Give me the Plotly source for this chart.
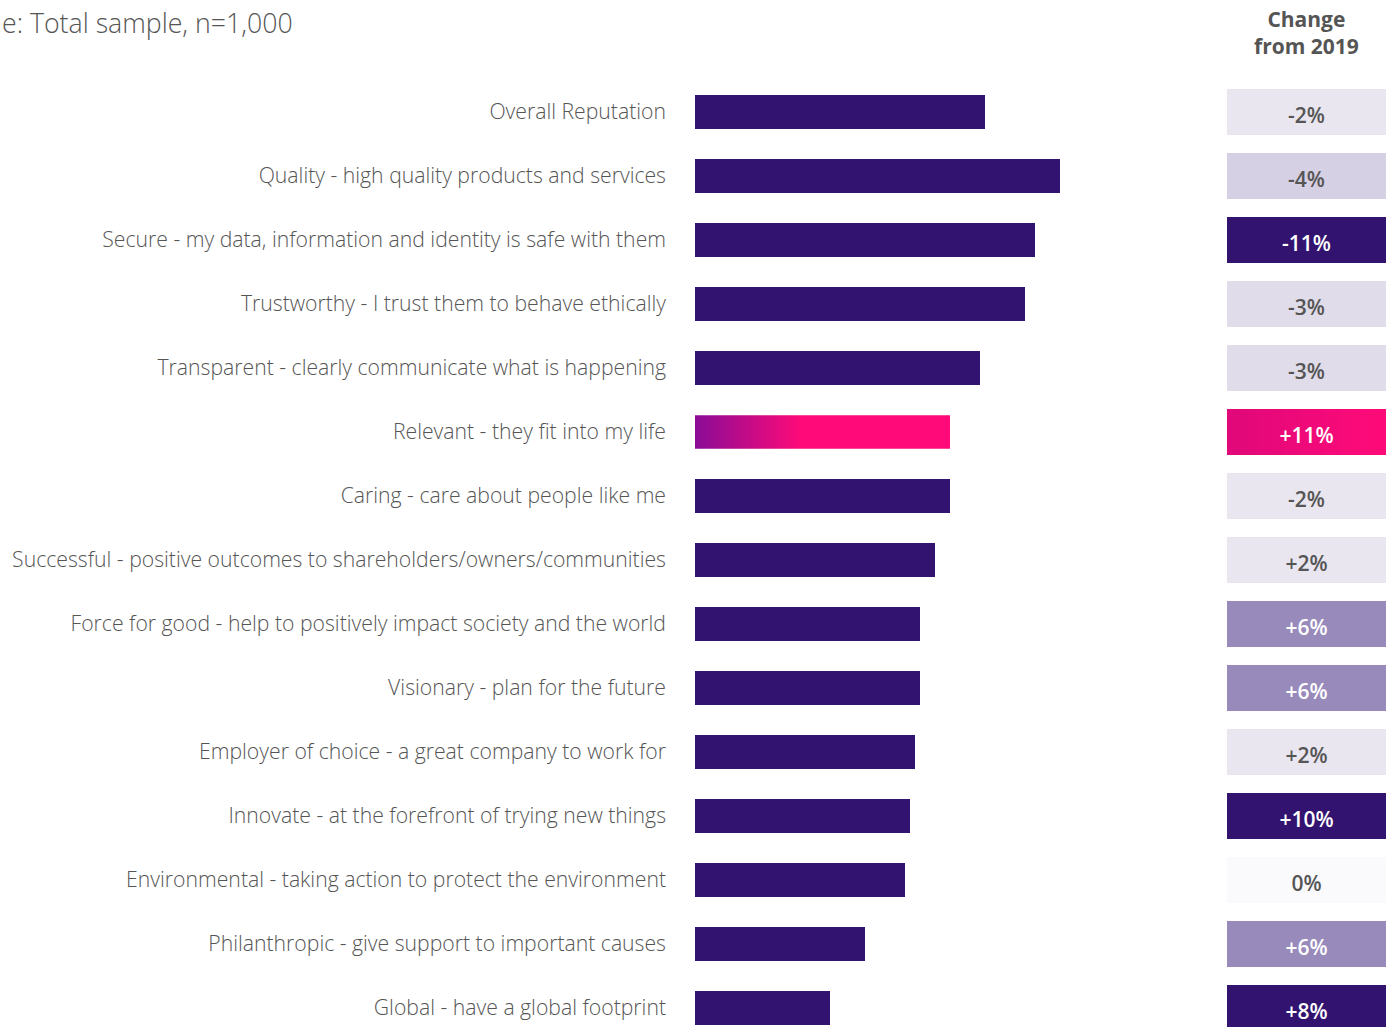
import plotly.graph_objects as go

categories = [
    "Overall Reputation",
    "Quality - high quality products and services",
    "Secure - my data, information and identity is safe with them",
    "Trustworthy - I trust them to behave ethically",
    "Transparent - clearly communicate what is happening",
    "Relevant - they fit into my life",
    "Caring - care about people like me",
    "Successful - positive outcomes to shareholders/owners/communities",
    "Force for good - help to positively impact society and the world",
    "Visionary - plan for the future",
    "Employer of choice - a great company to work for",
    "Innovate - at the forefront of trying new things",
    "Environmental - taking action to protect the environment",
    "Philanthropic - give support to important causes",
    "Global - have a global footprint",
]
scores = [58, 73, 68, 66, 57, 51, 51, 48, 45, 45, 44, 43, 42, 34, 27]
change_labels = ["-2%", "-4%", "-11%", "-3%", "-3%", "+11%", "-2%", "+2%",
                 "+6%", "+6%", "+2%", "+10%", "0%", "+6%", "+8%"]
box_colors = ["#e9e6f0", "#d6d0e4", "#321470", "#e0dcea", "#e0dcea", "#ff0a78",
              "#e9e6f0", "#e9e6f0", "#998abc", "#998abc", "#e9e6f0", "#321470",
              "#fafafc", "#998abc", "#321470"]
box_text_colors = ["#555555", "#555555", "#ffffff", "#555555", "#555555", "#ffffff",
                   "#555555", "#555555", "#ffffff", "#ffffff", "#555555", "#ffffff",
                   "#555555", "#ffffff", "#ffffff"]
highlight = "Relevant - they fit into my life"

BAR = "#321470"
FONT = "Open Sans"
W, H = 1389, 1027
TOP = 80
ypos = list(range(len(categories)))
hi = categories.index(highlight)

fig = go.Figure()

bar_colors = [BAR if c != highlight else "rgba(0,0,0,0)" for c in categories]
fig.add_trace(go.Bar(
    x=scores, y=ypos, orientation="h", width=0.52,
    marker=dict(color=bar_colors, line=dict(width=0)),
    xaxis="x", yaxis="y", showlegend=False, hoverinfo="skip",
))

# gradient bar for highlighted category
hw = 0.26
v = scores[hi]
fig.add_trace(go.Scatter(
    x=[0, v, v, 0, 0], y=[hi - hw, hi - hw, hi + hw, hi + hw, hi - hw],
    mode="lines", line=dict(width=0), fill="toself",
    fillgradient=dict(type="horizontal",
                      colorscale=[[0, "#8a0c96"], [0.42, "#ff0a78"], [1, "#ff0a78"]]),
    xaxis="x", yaxis="y", showlegend=False, hoverinfo="skip",
))

# change boxes
fig.add_trace(go.Bar(
    x=[1] * len(categories), y=ypos, orientation="h", width=0.72,
    marker=dict(color=box_colors, line=dict(width=0)),
    xaxis="x2", yaxis="y", showlegend=False, hoverinfo="skip",
))
# gradient for highlighted box
bw = 0.36
fig.add_trace(go.Scatter(
    x=[0, 1, 1, 0, 0], y=[hi - bw, hi - bw, hi + bw, hi + bw, hi - bw],
    mode="lines", line=dict(width=0), fill="toself",
    fillgradient=dict(type="horizontal",
                      colorscale=[[0, "#e0087a"], [1, "#ff0a78"]]),
    xaxis="x2", yaxis="y", showlegend=False, hoverinfo="skip",
))
fig.add_trace(go.Scatter(
    x=[0.5] * len(categories), y=[p + 0.09 for p in ypos], mode="text",
    text=change_labels,
    textfont=dict(family=FONT, size=21, color=box_text_colors, weight=600),
    xaxis="x2", yaxis="y", showlegend=False, hoverinfo="skip",
))

x0 = 695 / W
x1 = 1200 / W
fig.update_layout(
    width=W, height=H,
    margin=dict(l=0, r=0, t=TOP, b=0),
    paper_bgcolor="white", plot_bgcolor="white",
    bargap=0,
    font=dict(family=FONT, color="#555555"),
    xaxis=dict(domain=[x0, x1], range=[0, (1200 - 695) / 5], visible=False, fixedrange=True),
    xaxis2=dict(domain=[1227 / W, 1386 / W], range=[0, 1], visible=False, anchor="y"),
    yaxis=dict(range=[(H - TOP) / 64 - 0.5, -0.5], tickvals=ypos, ticktext=categories,
               showgrid=False, zeroline=False, showline=False, ticks="",
               tickfont=dict(family=FONT, size=21.2, color="#555555", weight=300),
               ticklabelstandoff=28, automargin=False, anchor="x"),
    annotations=[
        dict(text="e: Total sample, n=1,000", x=0, y=1, xref="paper", yref="paper",
             xanchor="left", yanchor="top", yshift=TOP - 2, showarrow=False,
             font=dict(family=FONT, size=26.7, color="#555555", weight=300)),
        dict(text="Change<br>from 2019", x=(1227 + 1386) / 2 / W, y=1,
             xref="paper", yref="paper", xanchor="center", yanchor="top",
             yshift=TOP - 3, showarrow=False, align="center",
             font=dict(family=FONT, size=21, color="#555555", weight=700)),
    ],
)

fig.write_html("out.html")
